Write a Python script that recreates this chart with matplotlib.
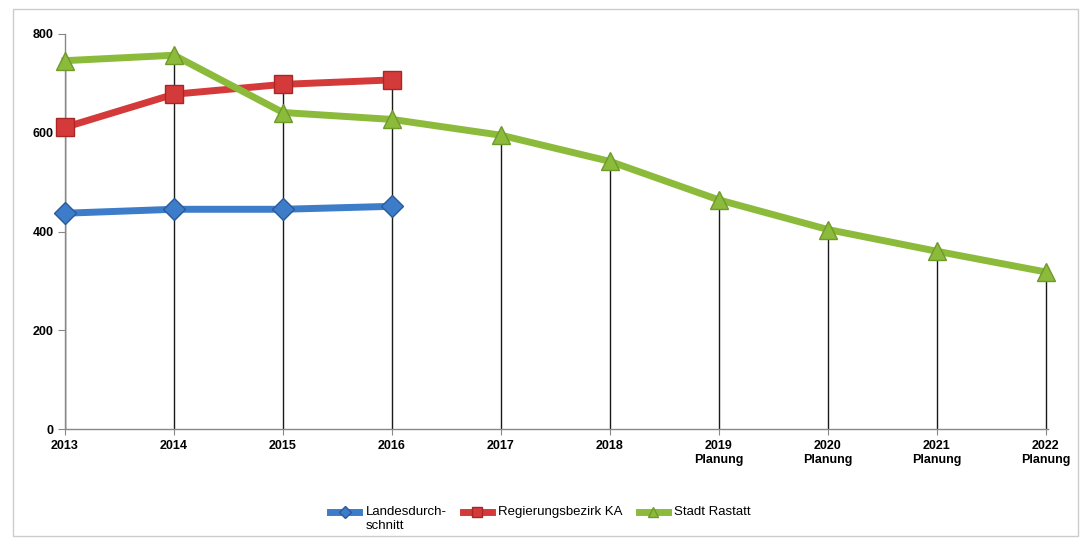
import matplotlib
matplotlib.use("Agg")
import matplotlib.pyplot as plt
from matplotlib.patches import Rectangle
from matplotlib.legend_handler import HandlerLine2D
import numpy as np

years = ["2013", "2014", "2015", "2016", "2017", "2018",
         "2019\nPlanung", "2020\nPlanung", "2021\nPlanung", "2022\nPlanung"]
landes = [437, 445, 445, 451]
regbez = [611, 678, 698, 707]
rastatt = [746, 757, 641, 627, 595, 542, 464, 404, 360, 318]

yticks = [0, 200, 400, 600, 800]

plt.rcParams['font.family'] = ['Liberation Sans', 'DejaVu Sans']


class ShiftedHandler(HandlerLine2D):
    def __init__(self, shift=0.0, **kw):
        super().__init__(**kw)
        self.shift = shift

    def create_artists(self, legend, orig_handle, xdescent, ydescent, width, height,
                       fontsize, trans):
        arts = super().create_artists(legend, orig_handle, xdescent, ydescent, width,
                                      height, fontsize, trans)
        for a in arts:
            a.set_ydata(np.asarray(a.get_ydata()) + self.shift)
        return arts


fig = plt.figure(figsize=(10.81, 5.39), dpi=100)
fig.patches.append(Rectangle((0.012, 0.005), 0.985, 0.978, transform=fig.transFigure,
                             fill=False, edgecolor='#cccccc', linewidth=1))
ax = fig.add_axes([65/1081, 1 - 429/539, (1048 - 65)/1081, (429 - 34)/539])

x = np.arange(len(years))
tops = []
for i in range(len(years)):
    vals = [rastatt[i]]
    if i < len(landes):
        vals.append(landes[i])
    if i < len(regbez):
        vals.append(regbez[i])
    tops.append(max(vals))
ax.vlines(x, 0, tops, color='#1a1a1a', linewidth=1, zorder=1)

blue = '#3d7cc9'
red = '#d43a3a'
green = '#8cbb3c'

l1, = ax.plot(x[:len(landes)], landes, color=blue, linewidth=5, marker='D', markersize=11,
              markerfacecolor=blue, markeredgecolor='#2a5a9a', markeredgewidth=1,
              label='Landesdurch-\nschnitt', zorder=3, clip_on=False)
l2, = ax.plot(x[:len(regbez)], regbez, color=red, linewidth=5, marker='s', markersize=13,
              markerfacecolor=red, markeredgecolor='#a82626', markeredgewidth=1,
              label='Regierungsbezirk KA\n ', zorder=3, clip_on=False)
l3, = ax.plot(x, rastatt, color=green, linewidth=5, marker='^', markersize=13,
              markerfacecolor=green, markeredgecolor='#6e9a2a', markeredgewidth=1,
              label='Stadt Rastatt\n ', zorder=4, clip_on=False)

ax.set_xlim(0, 9.02)
ax.set_ylim(0, 800)
ax.set_yticks(yticks)
ax.set_yticklabels([str(v) for v in yticks], fontsize=9, fontweight='bold')
ax.set_xticks(x)
ax.set_xticklabels(years, fontsize=9, fontweight='bold')
ax.tick_params(axis='x', length=4, color='#888888', pad=4)
ax.tick_params(axis='y', length=5, color='#888888', pad=3)
for s in ['top', 'right']:
    ax.spines[s].set_visible(False)
for s in ['left', 'bottom']:
    ax.spines[s].set_color('#888888')
    ax.spines[s].set_linewidth(1)
ax.set_facecolor('none')

hm = {h: ShiftedHandler(shift=5.0) for h in (l1, l2, l3)}
leg = fig.legend(loc='center', bbox_to_anchor=(0.5, 1 - 519/539), ncol=3, frameon=False,
                 fontsize=9.5, handlelength=2.2, columnspacing=1.2, handletextpad=0.5,
                 markerscale=0.6, handler_map=hm)

fig.savefig('out.png', dpi=100)
